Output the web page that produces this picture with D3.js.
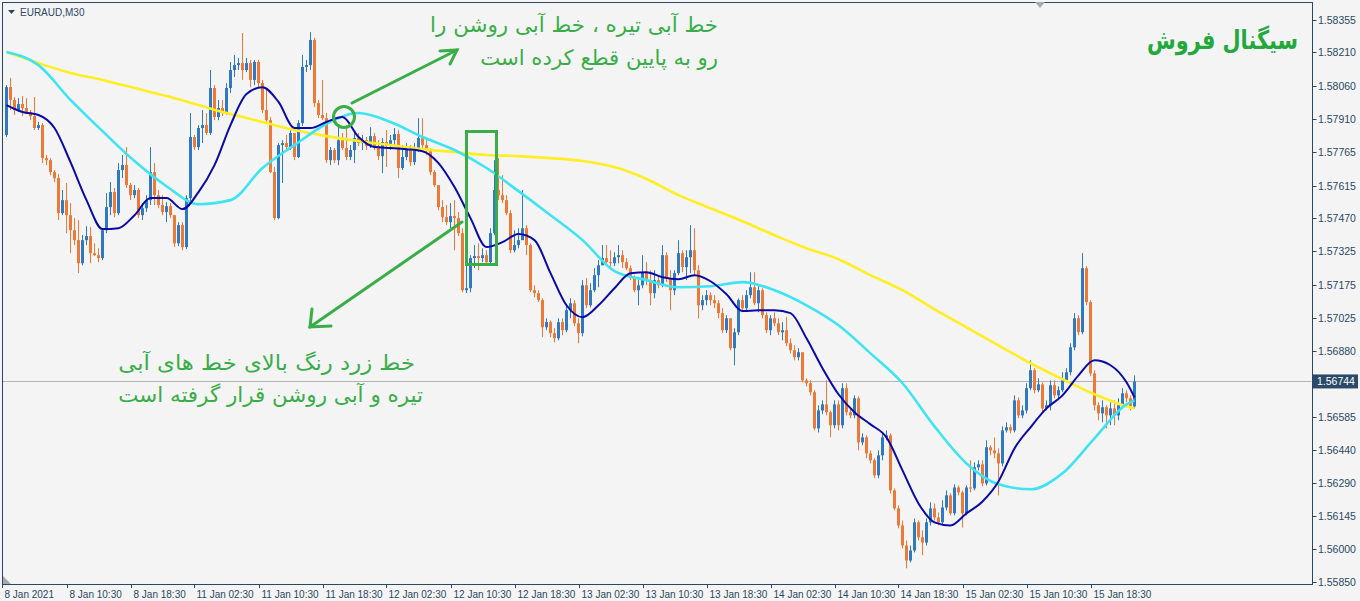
<!DOCTYPE html>
<html><head><meta charset="utf-8">
<script src="https://cdn.jsdelivr.net/npm/d3@7"></script>
<style>html,body{margin:0;padding:0;background:#f4f4f4;overflow:hidden}</style>
</head><body><svg id="c" width="1360" height="601"></svg>
<script>
// ---------- DATA (EURAUD, M30) ----------
const close=[1.58054,1.57997,1.57952,1.57979,1.57961,1.57943,1.57925,1.57872,1.57885,1.57738,1.57729,1.57676,1.57649,1.57493,1.57551,1.57484,1.57417,1.57373,1.57270,1.57373,1.57391,1.57315,1.57306,1.57293,1.57417,1.57520,1.57587,1.57493,1.57685,1.57707,1.57618,1.57573,1.57596,1.57484,1.57515,1.57551,1.57676,1.57573,1.57529,1.57498,1.57524,1.57484,1.57359,1.57440,1.57342,1.57560,1.57832,1.57787,1.57872,1.57885,1.57850,1.58050,1.57921,1.57961,1.57939,1.58050,1.58130,1.58152,1.58161,1.58130,1.58161,1.58086,1.58166,1.58072,1.57952,1.57907,1.57676,1.57471,1.57796,1.57805,1.57787,1.57850,1.57743,1.57894,1.58144,1.58152,1.58264,1.57983,1.57930,1.57916,1.57729,1.57774,1.57729,1.57818,1.57783,1.57743,1.57774,1.57827,1.57805,1.57818,1.57792,1.57836,1.57792,1.57747,1.57809,1.57792,1.57818,1.57845,1.57694,1.57743,1.57774,1.57720,1.57774,1.57827,1.57796,1.57774,1.57676,1.57618,1.57520,1.57475,1.57453,1.57480,1.57471,1.57404,1.57150,1.57159,1.57293,1.57302,1.57293,1.57306,1.57275,1.57404,1.57596,1.57573,1.57551,1.57493,1.57328,1.57351,1.57373,1.57426,1.57351,1.57150,1.57137,1.57106,1.56985,1.57008,1.56959,1.56936,1.57008,1.56972,1.57061,1.57092,1.57003,1.56959,1.57172,1.57083,1.57150,1.57217,1.57261,1.57293,1.57275,1.57270,1.57297,1.57306,1.57275,1.57248,1.57204,1.57150,1.57172,1.57230,1.57195,1.57137,1.57195,1.57172,1.57306,1.57204,1.57150,1.57226,1.57315,1.57253,1.57297,1.57328,1.57239,1.57083,1.57106,1.57128,1.57106,1.57092,1.57048,1.56972,1.57025,1.56892,1.56963,1.57106,1.57070,1.57128,1.57163,1.57092,1.57150,1.57039,1.56972,1.57025,1.57003,1.56963,1.56972,1.56914,1.56883,1.56852,1.56874,1.56749,1.56736,1.56696,1.56535,1.56615,1.56642,1.56607,1.56549,1.56642,1.56549,1.56714,1.56607,1.56593,1.56669,1.56473,1.56495,1.56424,1.56393,1.56326,1.56415,1.56495,1.56504,1.56259,1.56179,1.56103,1.56014,1.55947,1.55992,1.56117,1.56050,1.56027,1.56117,1.56179,1.56139,1.56117,1.56183,1.56237,1.56157,1.56272,1.56250,1.56157,1.56272,1.56268,1.56362,1.56375,1.56290,1.56451,1.56437,1.56424,1.56379,1.56526,1.56540,1.56526,1.56660,1.56593,1.56615,1.56714,1.56794,1.56705,1.56731,1.56624,1.56638,1.56727,1.56682,1.56705,1.56749,1.56785,1.56896,1.57025,1.56963,1.57248,1.57097,1.56780,1.56638,1.56602,1.56629,1.56593,1.56624,1.56593,1.56638,1.56691,1.56669,1.56633,1.56744];

const open=[1.57841,1.58054,1.57997,1.57952,1.57979,1.57961,1.57943,1.57925,1.57872,1.57885,1.57738,1.57729,1.57676,1.57649,1.57493,1.57551,1.57484,1.57417,1.57373,1.57270,1.57373,1.57391,1.57315,1.57306,1.57293,1.57417,1.57520,1.57587,1.57493,1.57685,1.57707,1.57618,1.57573,1.57596,1.57484,1.57515,1.57551,1.57676,1.57573,1.57529,1.57498,1.57524,1.57484,1.57359,1.57440,1.57342,1.57560,1.57832,1.57787,1.57872,1.57885,1.57850,1.58050,1.57921,1.57961,1.57939,1.58050,1.58130,1.58152,1.58161,1.58130,1.58161,1.58086,1.58166,1.58072,1.57952,1.57907,1.57676,1.57471,1.57796,1.57805,1.57787,1.57850,1.57743,1.57894,1.58144,1.58152,1.58264,1.57983,1.57930,1.57916,1.57729,1.57774,1.57729,1.57818,1.57783,1.57743,1.57774,1.57827,1.57805,1.57818,1.57792,1.57836,1.57792,1.57747,1.57809,1.57792,1.57818,1.57845,1.57694,1.57743,1.57774,1.57720,1.57774,1.57827,1.57796,1.57774,1.57676,1.57618,1.57520,1.57475,1.57453,1.57480,1.57471,1.57404,1.57150,1.57159,1.57293,1.57302,1.57293,1.57306,1.57275,1.57404,1.57596,1.57573,1.57551,1.57493,1.57328,1.57351,1.57373,1.57426,1.57351,1.57150,1.57137,1.57106,1.56985,1.57008,1.56959,1.56936,1.57008,1.56972,1.57061,1.57092,1.57003,1.56959,1.57172,1.57083,1.57150,1.57217,1.57261,1.57293,1.57275,1.57270,1.57297,1.57306,1.57275,1.57248,1.57204,1.57150,1.57172,1.57230,1.57195,1.57137,1.57195,1.57172,1.57306,1.57204,1.57150,1.57226,1.57315,1.57253,1.57297,1.57328,1.57239,1.57083,1.57106,1.57128,1.57106,1.57092,1.57048,1.56972,1.57025,1.56892,1.56963,1.57106,1.57070,1.57128,1.57163,1.57092,1.57150,1.57039,1.56972,1.57025,1.57003,1.56963,1.56972,1.56914,1.56883,1.56852,1.56874,1.56749,1.56736,1.56696,1.56535,1.56615,1.56642,1.56607,1.56549,1.56642,1.56549,1.56714,1.56607,1.56593,1.56669,1.56473,1.56495,1.56424,1.56393,1.56326,1.56415,1.56495,1.56504,1.56259,1.56179,1.56103,1.56014,1.55947,1.55992,1.56117,1.56050,1.56027,1.56117,1.56179,1.56139,1.56117,1.56183,1.56237,1.56157,1.56272,1.56250,1.56157,1.56272,1.56268,1.56362,1.56375,1.56290,1.56451,1.56437,1.56424,1.56379,1.56526,1.56540,1.56526,1.56660,1.56593,1.56615,1.56714,1.56794,1.56705,1.56731,1.56624,1.56638,1.56727,1.56682,1.56705,1.56749,1.56785,1.56896,1.57025,1.56963,1.57248,1.57097,1.56780,1.56638,1.56602,1.56629,1.56593,1.56624,1.56593,1.56638,1.56691,1.56669,1.56633];

const high=[1.58063,1.58095,1.58010,1.58005,1.58014,1.58005,1.57952,1.58010,1.57899,1.57894,1.57752,1.57738,1.57685,1.57667,1.57596,1.57627,1.57538,1.57471,1.57462,1.57395,1.57435,1.57431,1.57359,1.57337,1.57426,1.57582,1.57631,1.57605,1.57716,1.57752,1.57787,1.57627,1.57618,1.57605,1.57529,1.57573,1.57787,1.57716,1.57596,1.57573,1.57542,1.57538,1.57484,1.57453,1.57453,1.57573,1.57939,1.57841,1.57885,1.57952,1.57939,1.58130,1.58063,1.57997,1.57997,1.58072,1.58166,1.58197,1.58184,1.58295,1.58184,1.58175,1.58175,1.58175,1.58086,1.58041,1.57921,1.57698,1.57805,1.57818,1.57841,1.57872,1.57850,1.57907,1.58197,1.58175,1.58299,1.58273,1.57997,1.58086,1.57939,1.57787,1.57783,1.57885,1.57850,1.57885,1.57796,1.57854,1.57850,1.57841,1.57832,1.57876,1.57850,1.57818,1.57827,1.57863,1.57841,1.57872,1.57863,1.57796,1.57805,1.57796,1.57805,1.57916,1.57916,1.57818,1.57783,1.57685,1.57618,1.57551,1.57529,1.57538,1.57551,1.57498,1.57426,1.57275,1.57306,1.57351,1.57359,1.57337,1.57328,1.57426,1.57729,1.57738,1.57662,1.57573,1.57506,1.57417,1.57426,1.57596,1.57440,1.57359,1.57172,1.57150,1.57114,1.57025,1.57016,1.56981,1.57025,1.57025,1.57083,1.57114,1.57106,1.57025,1.57195,1.57204,1.57181,1.57248,1.57284,1.57351,1.57351,1.57328,1.57319,1.57351,1.57328,1.57293,1.57261,1.57217,1.57195,1.57306,1.57275,1.57239,1.57239,1.57217,1.57351,1.57319,1.57239,1.57239,1.57373,1.57328,1.57328,1.57440,1.57426,1.57261,1.57128,1.57150,1.57141,1.57128,1.57106,1.57070,1.57039,1.57025,1.56981,1.57114,1.57128,1.57150,1.57230,1.57230,1.57172,1.57159,1.57052,1.57039,1.57052,1.57025,1.57008,1.57030,1.56936,1.56905,1.56892,1.56874,1.56758,1.56749,1.56705,1.56638,1.56660,1.56749,1.56615,1.56660,1.56660,1.56736,1.56736,1.56624,1.56682,1.56678,1.56513,1.56504,1.56437,1.56402,1.56437,1.56517,1.56526,1.56513,1.56268,1.56192,1.56125,1.56036,1.56014,1.56134,1.56125,1.56081,1.56134,1.56206,1.56201,1.56161,1.56215,1.56259,1.56246,1.56286,1.56281,1.56259,1.56281,1.56393,1.56384,1.56393,1.56393,1.56482,1.56460,1.56495,1.56446,1.56544,1.56562,1.56553,1.56682,1.56673,1.56638,1.56736,1.56838,1.56803,1.56758,1.56740,1.56660,1.56749,1.56749,1.56722,1.56785,1.56803,1.56914,1.57048,1.57039,1.57315,1.57257,1.57106,1.56794,1.56651,1.56660,1.56638,1.56651,1.56660,1.56669,1.56714,1.56705,1.56682,1.56771];

const low=[1.57832,1.57952,1.57930,1.57943,1.57925,1.57934,1.57907,1.57863,1.57863,1.57716,1.57707,1.57662,1.57631,1.57462,1.57484,1.57404,1.57315,1.57351,1.57226,1.57261,1.57351,1.57270,1.57302,1.57275,1.57284,1.57404,1.57484,1.57475,1.57484,1.57649,1.57605,1.57551,1.57560,1.57471,1.57462,1.57498,1.57529,1.57529,1.57515,1.57484,1.57453,1.57471,1.57342,1.57346,1.57328,1.57333,1.57538,1.57774,1.57774,1.57805,1.57841,1.57841,1.57907,1.57907,1.57925,1.57930,1.58028,1.58099,1.58130,1.58086,1.58121,1.58054,1.58063,1.58054,1.57939,1.57899,1.57671,1.57462,1.57466,1.57627,1.57774,1.57774,1.57729,1.57738,1.57881,1.58121,1.58130,1.57965,1.57916,1.57907,1.57716,1.57707,1.57716,1.57707,1.57774,1.57729,1.57729,1.57716,1.57792,1.57774,1.57774,1.57783,1.57774,1.57729,1.57671,1.57698,1.57774,1.57787,1.57649,1.57685,1.57729,1.57703,1.57707,1.57765,1.57774,1.57752,1.57662,1.57609,1.57506,1.57453,1.57440,1.57426,1.57328,1.57391,1.57141,1.57137,1.57141,1.57248,1.57239,1.57275,1.57261,1.57261,1.57395,1.57551,1.57538,1.57484,1.57315,1.57319,1.57337,1.57373,1.57306,1.57141,1.57119,1.57097,1.56941,1.56972,1.56941,1.56918,1.56927,1.56950,1.56963,1.57025,1.56990,1.56914,1.56945,1.57070,1.57074,1.57141,1.57163,1.57261,1.57261,1.57248,1.57257,1.57270,1.57248,1.57239,1.57195,1.57141,1.57083,1.57159,1.57172,1.57083,1.57114,1.57159,1.57163,1.57186,1.57061,1.57128,1.57217,1.57230,1.57195,1.57226,1.57217,1.57025,1.57061,1.57083,1.57083,1.57070,1.57025,1.56959,1.56959,1.56883,1.56816,1.56950,1.57052,1.57061,1.57114,1.57083,1.57052,1.57025,1.56959,1.56950,1.56990,1.56950,1.56927,1.56901,1.56869,1.56838,1.56838,1.56740,1.56722,1.56682,1.56526,1.56517,1.56598,1.56593,1.56495,1.56535,1.56526,1.56535,1.56593,1.56580,1.56580,1.56437,1.56460,1.56402,1.56379,1.56313,1.56313,1.56393,1.56482,1.56246,1.56170,1.56090,1.56001,1.55912,1.55938,1.55983,1.56036,1.55970,1.56014,1.56103,1.56125,1.56103,1.56103,1.56170,1.56148,1.56148,1.56237,1.56094,1.56148,1.56250,1.56259,1.56348,1.56277,1.56281,1.56415,1.56402,1.56237,1.56366,1.56517,1.56513,1.56517,1.56580,1.56580,1.56602,1.56705,1.56691,1.56696,1.56607,1.56615,1.56615,1.56669,1.56669,1.56696,1.56740,1.56771,1.56883,1.56950,1.56954,1.57083,1.56767,1.56615,1.56571,1.56562,1.56535,1.56549,1.56549,1.56571,1.56624,1.56651,1.56615,1.56624];

// moving averages (fast = dark blue every 4 bars, others every 8 bars; last point = final bar)
const maFast=[1.57974,1.57943,1.57930,1.57872,1.57720,1.57551,1.57422,1.57426,1.57484,1.57560,1.57560,1.57511,1.57587,1.57707,1.57885,1.58023,1.58054,1.57988,1.57872,1.57872,1.57899,1.57921,1.57832,1.57787,1.57783,1.57778,1.57769,1.57716,1.57609,1.57471,1.57342,1.57364,1.57400,1.57373,1.57226,1.57083,1.57030,1.57083,1.57159,1.57226,1.57230,1.57208,1.57199,1.57217,1.57190,1.57132,1.57057,1.57061,1.57061,1.57048,1.56936,1.56803,1.56687,1.56607,1.56553,1.56495,1.56348,1.56201,1.56117,1.56103,1.56157,1.56210,1.56299,1.56446,1.56540,1.56624,1.56682,1.56771,1.56838,1.56816,1.56740,1.56673];
const maMid=[1.58210,1.58152,1.57997,1.57858,1.57725,1.57613,1.57533,1.57551,1.57694,1.57796,1.57890,1.57939,1.57899,1.57832,1.57774,1.57694,1.57591,1.57484,1.57373,1.57235,1.57195,1.57163,1.57168,1.57186,1.57150,1.57083,1.56994,1.56869,1.56736,1.56544,1.56379,1.56286,1.56264,1.56335,1.56491,1.56642,1.56660];
const maSlow=[1.58210,1.58161,1.58117,1.58086,1.58050,1.58014,1.57974,1.57934,1.57899,1.57863,1.57836,1.57814,1.57796,1.57778,1.57765,1.57752,1.57747,1.57738,1.57725,1.57698,1.57645,1.57573,1.57515,1.57457,1.57395,1.57337,1.57288,1.57217,1.57150,1.57065,1.56985,1.56905,1.56825,1.56754,1.56687,1.56633,1.56624];

const priceTicks=["1.58355","1.58210","1.58060","1.57910","1.57765","1.57615","1.57470","1.57325","1.57175","1.57025","1.56880","1.56585","1.56440","1.56290","1.56145","1.56000","1.55850"];
const timeLabels=["8 Jan 2021","8 Jan 10:30","8 Jan 18:30","11 Jan 02:30","11 Jan 10:30","11 Jan 18:30","12 Jan 02:30","12 Jan 10:30","12 Jan 18:30","13 Jan 02:30","13 Jan 10:30","13 Jan 18:30","14 Jan 02:30","14 Jan 10:30","14 Jan 18:30","15 Jan 02:30","15 Jan 10:30","15 Jan 18:30"];
const timeLabelBars=[-1,15,31,47,63,79,95,111,127,143,159,175,191,207,223,239,255,271];
const symbolTitle="EURAUD,M30";
const currentPrice=1.56744;
const signalTitle="سیگنال فروش";
const noteTop=["خط آبی تیره ، خط آبی روشن را","رو به پایین قطع کرده است"];
const noteBottom=["خط زرد رنگ بالای خط های آبی","تیره و آبی روشن قرار گرفته است"];

// ---------- DRAW ----------
const svg=d3.select("#c");
const W=1360,H=601;
const L=2,T=2,R=1312,B=584;
const N=close.length;
const x=d3.scaleLinear().domain([0,N-1]).range([6.5,6.5+4*(N-1)]);
const y=d3.scaleLinear().domain([1.55850,1.58355]).range([582.3,19.5]);

svg.append("rect").attr("width",W).attr("height",H).attr("fill","#f4f4f4");
svg.append("defs").append("clipPath").attr("id","pc").append("rect")
  .attr("x",L+0.5).attr("y",T+0.5).attr("width",R-L-1).attr("height",B-T-1);

const plot=svg.append("g").attr("clip-path","url(#pc)");

// current price line
plot.append("line").attr("x1",L).attr("x2",R).attr("y1",Math.round(y(currentPrice))+0.5).attr("y2",Math.round(y(currentPrice))+0.5)
  .attr("stroke","#b4b4b4").attr("stroke-width",1);

const BULL="#2f78c2",BEAR="#ec7a36";
const bars=d3.range(N).map(i=>({i,o:open[i],h:high[i],l:low[i],c:close[i]}));
const cg=plot.append("g");
cg.selectAll("line.w").data(bars).join("line").attr("class","w")
  .attr("x1",d=>x(d.i)).attr("x2",d=>x(d.i))
  .attr("y1",d=>y(d.h)).attr("y2",d=>y(d.l))
  .attr("stroke",d=>d.c>=d.o?BULL:BEAR).attr("stroke-width",1);
cg.selectAll("rect.b").data(bars).join("rect").attr("class","b")
  .attr("x",d=>x(d.i)-1.5).attr("width",3)
  .attr("y",d=>y(Math.max(d.o,d.c)))
  .attr("height",d=>Math.max(1,Math.abs(y(d.o)-y(d.c))))
  .attr("fill",d=>d.c>=d.o?BULL:BEAR);

// moving averages
function maPoints(vals,step){return vals.map((v,k)=>({i:k<vals.length-1?k*step:N-1,v}));}
const line=d3.line().x(d=>x(d.i)).y(d=>y(d.v)).curve(d3.curveMonotoneX);
plot.append("path").datum(maPoints(maSlow,8)).attr("d",line).attr("fill","none").attr("stroke","#ffee22").attr("stroke-width",2.6);
plot.append("path").datum(maPoints(maMid,8)).attr("d",line).attr("fill","none").attr("stroke","#3fe3f2").attr("stroke-width",2.6);
plot.append("path").datum(maPoints(maFast,4)).attr("d",line).attr("fill","none").attr("stroke","#0a0aa8").attr("stroke-width",2);

// frame
svg.append("rect").attr("x",L+0.5).attr("y",T+0.5).attr("width",R-L).attr("height",B-T)
  .attr("fill","none").attr("stroke","#2b4863").attr("stroke-width",1);

// price axis
const AX="#2b4863";
const pa=svg.append("g");
priceTicks.forEach(t=>{
  const v=+t, yy=Math.round(y(v))+0.5;
  pa.append("line").attr("x1",R+0.5).attr("x2",R+4.5).attr("y1",yy).attr("y2",yy).attr("stroke",AX);
  pa.append("text").attr("x",R+6).attr("y",yy+3.6).text(t)
    .attr("font-family","Liberation Sans, Arial, sans-serif").attr("font-size",10.5).attr("fill",AX);
});
const cy=y(currentPrice);
pa.append("rect").attr("x",R+1).attr("y",cy-7).attr("width",45).attr("height",14).attr("fill","#2b4a69");
pa.append("text").attr("x",R+5).attr("y",cy+4).text(currentPrice.toFixed(5))
  .attr("font-family","Liberation Sans, Arial, sans-serif").attr("font-size",10.5).attr("fill","#ffffff");

// time axis
const ta=svg.append("g");
timeLabels.forEach((t,k)=>{
  const xx=k===0?L+0.5:Math.round(x(timeLabelBars[k]))+0.5;
  ta.append("line").attr("x1",xx).attr("x2",xx).attr("y1",B).attr("y2",B+4).attr("stroke",AX);
  ta.append("text").attr("x",xx+2).attr("y",598).text(t)
    .attr("font-family","Liberation Sans, Arial, sans-serif").attr("font-size",10).attr("fill",AX);
});

// symbol caption
svg.append("path").attr("d","M8,10 L15,10 L11.5,14 Z").attr("fill","#2b4863");
svg.append("text").attr("x",20).attr("y",15.5).text(symbolTitle)
  .attr("font-family","Liberation Sans, Arial, sans-serif").attr("font-size",10).attr("fill","#2b4863");
// small markers
svg.append("path").attr("d","M1035,2 L1045,2 L1040,8 Z").attr("fill","#a9a9a9");
svg.append("path").attr("d","M3,576 L3,584 L11,584 Z").attr("fill","#a9a9a9");

// annotations (right-aligned, horizontally fitted to the reference widths)
const G="#39ad48";
const AF="DejaVu Sans, Noto Sans, sans-serif";
function note(t,xr,yb,size,len,bold,col){
  const g=svg.append("g");
  const tx=g.append("text").attr("x",0).attr("y",0).attr("text-anchor","end").text(t)
    .attr("font-family",AF).attr("font-weight",bold?"bold":"normal")
    .attr("font-size",size).attr("fill",col);
  const nat=tx.node().getComputedTextLength()||len;
  g.attr("transform",`translate(${xr},${yb}) scale(${len/nat},1)`);
}
note(signalTitle,1298,49,26,151,true,"#22a83c");
note(noteTop[0],718,32,21,288,false,G);
note(noteTop[1],718,65,21,238,false,G);
note(noteBottom[0],415,370,21,297,false,G);
note(noteBottom[1],423,402,21,305,false,G);

const ann=svg.append("g").attr("fill","none").attr("stroke",G).attr("stroke-width",3).attr("stroke-linecap","round");
ann.append("circle").attr("cx",344).attr("cy",117).attr("r",10.5);
ann.append("rect").attr("x",466.5).attr("y",131.5).attr("width",30).attr("height",133);
ann.append("line").attr("x1",352).attr("y1",103).attr("x2",457).attr("y2",50);
ann.append("path").attr("d","M440,51 L457,50 L450,64");
ann.append("line").attr("x1",462).attr("y1",222).attr("x2",310).attr("y2",327);
ann.append("path").attr("d","M312,309 L310,327 L331,326");
</script></body></html>
